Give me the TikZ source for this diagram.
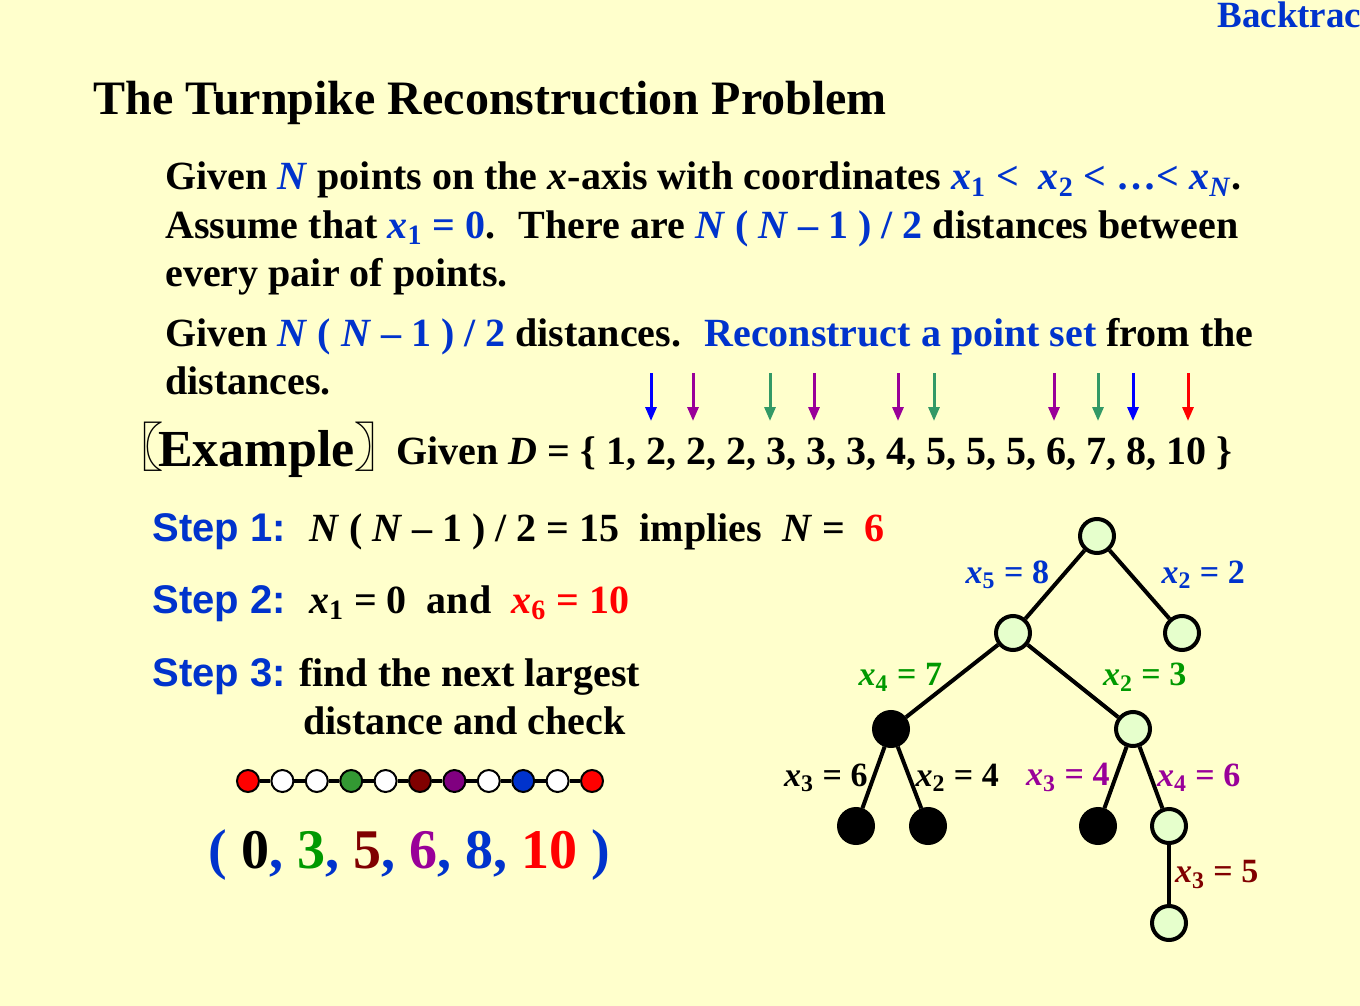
\documentclass[tikz,border=0pt]{standalone}
\usepackage{fontspec}
\setmainfont{Liberation Serif}
\newfontfamily\arialfont{Liberation Sans}
\newfontfamily\cjk{Noto Sans CJK SC}
\usetikzlibrary{arrows.meta, positioning}
\definecolor{bgyellow}{HTML}{FFFFCC}
\definecolor{tblue}{HTML}{0033CC}
\definecolor{xred}{HTML}{FF0000}
\definecolor{xgreen}{HTML}{009900}
\definecolor{xpurple}{HTML}{990099}
\definecolor{xdkred}{HTML}{800000}
\definecolor{arrblue}{HTML}{0000FF}
\definecolor{arrgreen}{HTML}{339966}
\definecolor{dotgreen}{HTML}{339933}
\definecolor{dotpurple}{HTML}{800080}
\definecolor{nodefill}{HTML}{E6FFCC}
\newcommand{\xv}[1]{\textit{x}\textsubscript{#1}}
\newcommand{\Nv}{\textit{N}}
\newcommand{\blu}[1]{\textcolor{tblue}{#1}}
\newcommand{\steplbl}[1]{{\arialfont\color{tblue}Step #1:}}

\begin{document}
\begin{tikzpicture}[x=0.5pt, y=-0.5pt, font=\bfseries\fontsize{20}{24}\selectfont,
  txtline/.style={anchor=base west, inner sep=0pt},
  treenode/.style={circle, draw, line width=2pt, fill=nodefill, minimum size=17pt, inner sep=0pt},
  deadnode/.style={treenode, fill=black},
  edgelbl/.style={inner sep=2pt, font=\bfseries\fontsize{17}{20}\selectfont},
  dot/.style={circle, draw, line width=1pt, minimum size=11pt, inner sep=0pt},
  pick/.style={-{Triangle[length=7pt, width=5.5pt]}, line width=1.5pt}]

% Background
\fill[bgyellow] (0,0) rectangle (1360,1006);
\useasboundingbox (0,0) rectangle (1360,1006);
\clip (0,0) rectangle (1360,1006);

\node[txtline, text=tblue, font=\bfseries\fontsize{18.5}{22}\selectfont] (chap) at (1217,28) {Backtracking};

% Title
\node[txtline, font=\bfseries\fontsize{24}{28}\selectfont] (title) at (93,115)
  {The Turnpike Reconstruction Problem};

% Problem statement
\node[txtline] (p1) at (165,190)
  {Given \blu{\Nv} points on the \textit{x}-axis with coordinates \blu{\xv{1} <~ \xv{2} < \dots< \xv{\textit{N}}}.};
\node[txtline] (p2) at (165,238)
  {Assume that \blu{\xv{1} = 0}.~ There are \blu{\Nv\ ( \Nv\ -- 1 ) / 2} distances between};
\node[txtline] (p3) at (165,286) {every pair of points.};
\node[txtline] (p4) at (165,346)
  {Given \blu{\Nv\ ( \Nv\ -- 1 ) / 2} distances.~ \blu{Reconstruct a point set} from the};
\node[txtline] (p5) at (165,394) {distances.};

% Example
\node[txtline, font=\bfseries\fontsize{26}{30}\selectfont] (ex) at (111,466)
  {{\cjk 〖}\kern-0.1em Example{\cjk 〗}\kern-0.6em};
\node[txtline] (dset) at (396,464)
  {Given \textit{D} = \{ 1, 2, 2, 2, 3, 3, 3, 4, 5, 5, 5, 6, 7, 8, 10 \}};

% Picked distances
\foreach \px/\pc in {651/arrblue, 693/xpurple, 770/arrgreen, 814/xpurple, 898/xpurple,
                     934/arrgreen, 1054/xpurple, 1098/arrgreen, 1133/arrblue, 1188/xred} {
  \draw[pick, \pc] (\px,373) -- (\px,421);
}

% Steps
\node[txtline] (s1) at (152,541)
  {\steplbl{1}~ \Nv\ ( \Nv\ -- 1 ) / 2 = 15~ implies~ \Nv\ =~ \textcolor{xred}{6}};
\node[txtline] (s2) at (152,613)
  {\steplbl{2}~ \xv{1} = 0~ and~ \textcolor{xred}{\xv{6} = 10}};
\node[txtline] (s3) at (152,686) {\steplbl{3} find the next largest};
\node[txtline] (s3b) at (303,734) {distance and check};

% Point chain
\foreach \i/\dc in {1/xred, 2/white, 3/white, 4/dotgreen, 5/white, 6/xdkred,
                    7/dotpurple, 8/white, 9/tblue, 10/white, 11/xred} {
  \node[dot, fill=\dc] (d\i) at ({248+34.4*(\i-1)},781) {};
}
\foreach \i [evaluate=\i as \j using int(\i+1)] in {1,...,10} {
  \draw[line width=2pt] (d\i) -- (d\j);
}

% Answer
\node[txtline, font=\bfseries\fontsize{28}{32}\selectfont] (ans) at (208,868)
  {\blu{(} 0\blu{,} \textcolor{xgreen}{3}\blu{,} \textcolor{xdkred}{5}\blu{,}
   \textcolor{xpurple}{6}\blu{,} \blu{8,} \textcolor{xred}{10} \blu{)}};

% Decision tree
\node[treenode] (root) at (1097,536) {};
\node[treenode] (a) at (1013,633) {};
\node[treenode] (b) at (1182,633) {};
\node[deadnode] (c) at (891,729) {};
\node[treenode] (d) at (1133,729) {};
\node[deadnode] (e) at (856,826) {};
\node[deadnode] (f) at (928,826) {};
\node[deadnode] (g) at (1098,826) {};
\node[treenode] (h) at (1169,826) {};
\node[treenode] (i) at (1169,923) {};

\draw[line width=2pt] (root) -- node[edgelbl, text=tblue, anchor=south east, yshift=-5pt] {\xv{5} = 8} (a);
\draw[line width=2pt] (root) -- node[edgelbl, text=tblue, anchor=south west, xshift=8pt, yshift=-5pt] {\xv{2} = 2} (b);
\draw[line width=2pt] (a) -- node[edgelbl, text=xgreen, anchor=south east, xshift=-2pt, yshift=-8pt] {\xv{4} = 7} (c);
\draw[line width=2pt] (a) -- node[edgelbl, text=xgreen, anchor=south west, xshift=12pt, yshift=-8pt] {\xv{2} = 3} (d);
\draw[line width=2pt] (c) -- node[edgelbl, anchor=east] {\xv{3} = 6} (e);
\draw[line width=2pt] (c) -- node[edgelbl, anchor=west] {\xv{2} = 4} (f);
\draw[line width=2pt] (d) -- node[edgelbl, text=xpurple, anchor=east] {\xv{3} = 4} (g);
\draw[line width=2pt] (d) -- node[edgelbl, text=xpurple, anchor=west] {\xv{4} = 6} (h);
\draw[line width=2pt] (h) -- node[edgelbl, text=xdkred, anchor=west] {\xv{3} = 5} (i);

\end{tikzpicture}
\end{document}
